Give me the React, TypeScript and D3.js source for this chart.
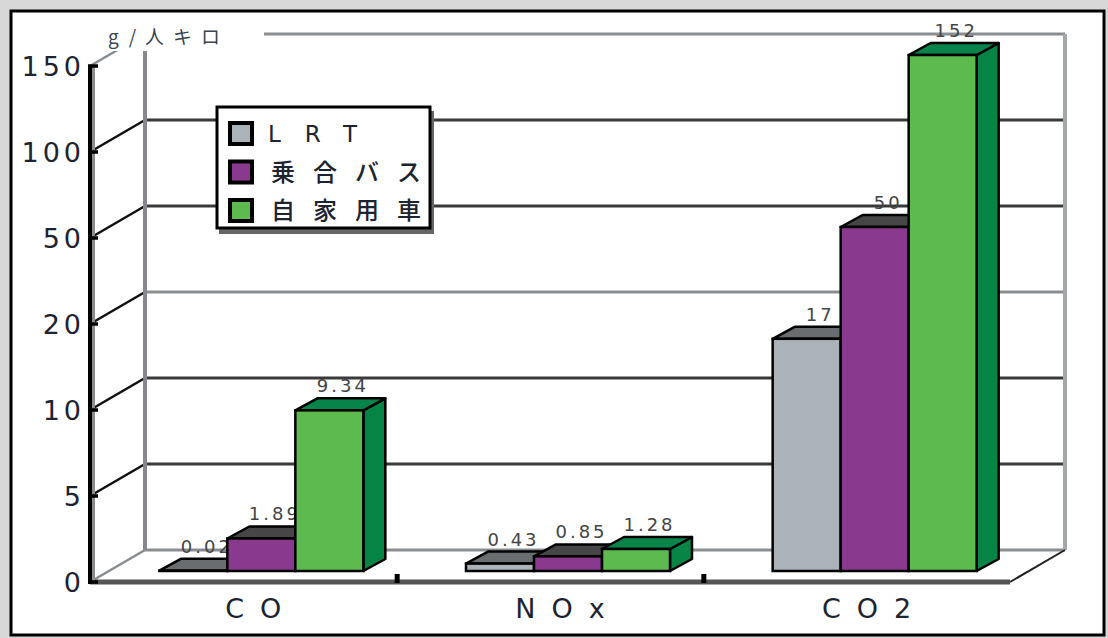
import React from "react";
import * as d3 from "d3";

const categories = ["CO", "NOx", "CO2"];
const seriesNames = ["LRT", "乗合バス", "自家用車"];
const lrtValues = [0.02, 0.43, 17];
const busValues = [1.89, 0.85, 50];
const carValues = [9.34, 1.28, 152];
const yTicks = [0, 5, 10, 20, 50, 100, 150];
const unitLabel = "g/人キロ";

const W = 1108;
const H = 638;
const FRONT_LEFT = 90;
const FRONT_RIGHT = 1010;
const FLOOR_Y = 582;
const STEP = 86;
const DEPTH_X = 55;
const DEPTH_Y = -32;
const BAR_SHIFT_X = 18;
const BAR_SHIFT_Y = -11;
const BAR_DX = 22;
const BAR_DY = -12;
const BAR_W = 68;

const seriesValues = [lrtValues, busValues, carValues];
const frontColors = ["#abb2b8", "#8a3a8e", "#5cba4e"];
const topColors = ["#6a6d70", "#464646", "#07844a"];
const sideColors = ["#7a7d80", "#5a2a5e", "#068446"];
const darkGrid = new Set([5, 10, 50, 100]);
const grayDiag = new Set([0, 150]);

const yScale = d3
  .scaleLinear()
  .domain(yTicks)
  .range(yTicks.map((_, i) => FLOOR_Y - i * STEP))
  .clamp(true);

const xCat = d3.scaleBand<string>().domain(categories).range([FRONT_LEFT, FRONT_RIGHT]);
const xSeries = d3
  .scaleBand<string>()
  .domain(seriesNames)
  .range([0, BAR_W * 3]);

const FONT = "'DejaVu Sans', 'Liberation Sans', Arial, sans-serif";
const CJK = "'Noto Sans CJK JP', 'Noto Sans', sans-serif";

export default function App() {
  const bars: React.ReactNode[] = [];
  categories.forEach((cat, ci) => {
    const groupStart = (xCat(cat) as number) + (xCat.bandwidth() - BAR_W * 3) / 2 + BAR_SHIFT_X;
    seriesNames.forEach((s, si) => {
      const v = seriesValues[si][ci];
      const x0 = groupStart + (xSeries(s) as number);
      const x1 = x0 + xSeries.bandwidth();
      const yb = FLOOR_Y + BAR_SHIFT_Y;
      const yt = yScale(v) + BAR_SHIFT_Y;
      const top = [
        [x0, yt],
        [x0 + BAR_DX, yt + BAR_DY],
        [x1 + BAR_DX, yt + BAR_DY],
        [x1, yt],
      ];
      const side = [
        [x1, yt],
        [x1 + BAR_DX, yt + BAR_DY],
        [x1 + BAR_DX, yb + BAR_DY],
        [x1, yb],
      ];
      const pts = (p: number[][]) => p.map((q) => q.join(",")).join(" ");
      bars.push(
        <g key={`${cat}-${s}`}>
          <polygon points={pts(side)} fill={sideColors[si]} stroke="#000" strokeWidth={2.5} strokeLinejoin="round" />
          <polygon points={pts(top)} fill={topColors[si]} stroke="#000" strokeWidth={2.5} strokeLinejoin="round" />
          <rect x={x0} y={yt} width={x1 - x0} height={Math.max(0, yb - yt)} fill={frontColors[si]} stroke="#000" strokeWidth={2.5} />
          <text
            x={(x0 + x1) / 2 + BAR_DX / 2 + 1}
            y={yt + BAR_DY - 6}
            dx={1.5}
            textAnchor="middle"
            fontFamily={FONT}
            fontSize={18}
            letterSpacing={3}
            fill="#444"
          >
            {String(v)}
          </text>
        </g>
      );
    });
  });

  return (
    <svg width={W} height={H} style={{ position: "absolute", left: 0, top: 0 }}>
      <rect x={0} y={0} width={W} height={H} fill="#d8d8d8" />
      <rect x={11} y={11} width={1093} height={624} fill="#fff" stroke="#000" strokeWidth={3} />

      {/* back wall gridlines and left wall lines */}
      {yTicks.map((t) => {
        const yf = yScale(t);
        const yb = yf + DEPTH_Y;
        const col = darkGrid.has(t) ? "#3a3a3a" : "#8a8d90";
        return (
          <g key={`g${t}`}>
            <line x1={FRONT_LEFT + DEPTH_X} x2={FRONT_RIGHT + DEPTH_X} y1={yb} y2={yb} stroke={col} strokeWidth={3} />
            <line x1={FRONT_LEFT} y1={yf} x2={FRONT_LEFT + DEPTH_X} y2={yb} stroke={grayDiag.has(t) ? "#8a8d90" : "#111"} strokeWidth={2.5} />
          </g>
        );
      })}
      <line x1={FRONT_LEFT + DEPTH_X} x2={FRONT_LEFT + DEPTH_X} y1={yScale(150) + DEPTH_Y} y2={FLOOR_Y + DEPTH_Y} stroke="#85898d" strokeWidth={4} />
      <line x1={FRONT_RIGHT + DEPTH_X} x2={FRONT_RIGHT + DEPTH_X} y1={yScale(150) + DEPTH_Y} y2={FLOOR_Y + DEPTH_Y} stroke="#a3a7ab" strokeWidth={4} />
      <line x1={FRONT_RIGHT} y1={FLOOR_Y} x2={FRONT_RIGHT + DEPTH_X} y2={FLOOR_Y + DEPTH_Y} stroke="#222" strokeWidth={2} />

      {/* unit label */}
      <rect x={96} y={15} width={168} height={36} fill="#fff" />
      <text x={164} y={44} textAnchor="middle" dx={4.5} fontFamily={CJK} fontSize={19} letterSpacing={9} fill="#3c4450">
        {unitLabel}
      </text>

      {/* floor front edge */}
      <line x1={FRONT_LEFT} x2={FRONT_RIGHT} y1={FLOOR_Y} y2={FLOOR_Y} stroke="#555" strokeWidth={5} />

      {bars}

      {/* category separators */}
      {categories.slice(1).map((c) => (
        <rect key={`sep${c}`} x={(xCat(c) as number) - 2} y={FLOOR_Y - 8} width={5} height={9} fill="#000" />
      ))}

      {/* front y axis */}
      <line x1={FRONT_LEFT + 3.5} x2={FRONT_LEFT + 3.5} y1={yScale(150)} y2={FLOOR_Y} stroke="#8a8d90" strokeWidth={3} />
      <line x1={FRONT_LEFT} x2={FRONT_LEFT} y1={yScale(150) - 1} y2={FLOOR_Y + 2} stroke="#000" strokeWidth={4} />
      {yTicks.map((t) => (
        <g key={`t${t}`}>
          <line x1={FRONT_LEFT - 2} x2={FRONT_LEFT + 8} y1={yScale(t)} y2={yScale(t)} stroke="#000" strokeWidth={3.5} />
          <text
            x={81}
            y={yScale(t) + 10}
            dx={4}
            textAnchor="end"
            fontFamily={FONT}
            fontSize={27}
            letterSpacing={4}
            fill="#1d2430"
          >
            {String(t)}
          </text>
        </g>
      ))}

      {/* category labels */}
      {categories.map((c) => (
        <text
          key={`c${c}`}
          x={(xCat(c) as number) + xCat.bandwidth() / 2 + 10}
          y={618}
          dx={8}
          textAnchor="middle"
          fontFamily={FONT}
          fontSize={27}
          letterSpacing={16}
          fill="#1d2430"
        >
          {c}
        </text>
      ))}

      {/* legend */}
      <rect x={219} y={111} width={215} height={123} fill="#666" />
      <rect x={217} y={107} width={213} height={121} fill="#fff" stroke="#000" strokeWidth={3} />
      {seriesNames.map((s, i) => {
        const cy = 133 + i * 38.5;
        return (
          <g key={`l${s}`}>
            <rect x={230} y={cy - 10} width={22} height={21} fill={frontColors[i]} stroke="#000" strokeWidth={4} />
            <text
              x={i === 0 ? 268 : 271}
              y={cy + 9}
              fontFamily={i === 0 ? FONT : CJK}
              fontWeight={i === 0 ? 400 : 500}
              fontSize={i === 0 ? 23 : 24}
              letterSpacing={i === 0 ? 24 : 18}
              fill="#1d2430"
            >
              {s}
            </text>
          </g>
        );
      })}
    </svg>
  );
}
